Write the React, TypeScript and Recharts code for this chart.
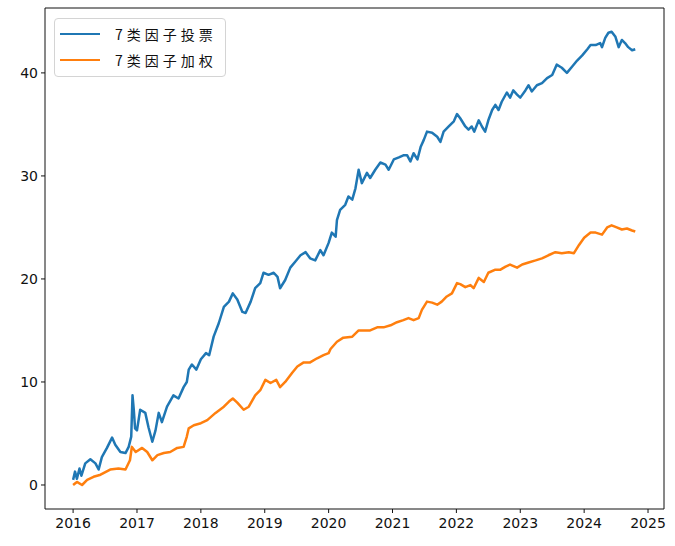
import React from "react";
import { LineChart, Line, XAxis, YAxis, Legend, ReferenceArea } from "recharts";

const yearTicks = [2016, 2017, 2018, 2019, 2020, 2021, 2022, 2023, 2024, 2025];
const valueTicks = [0, 10, 20, 30, 40];
const seriesNames = ["7类因子投票", "7类因子加权"];

const voteX = [2016.00, 2016.03, 2016.06, 2016.10, 2016.13, 2016.19, 2016.27, 2016.35, 2016.40, 2016.45,
  2016.53, 2016.61, 2016.66, 2016.74, 2016.82, 2016.87, 2016.91, 2016.93, 2016.95, 2016.97,
  2017.00, 2017.05, 2017.13, 2017.18, 2017.24, 2017.29, 2017.34, 2017.39, 2017.47, 2017.57,
  2017.65, 2017.73, 2017.78, 2017.81, 2017.86, 2017.93, 2018.00, 2018.08, 2018.13, 2018.20,
  2018.28, 2018.36, 2018.44, 2018.50, 2018.57, 2018.65, 2018.70, 2018.78, 2018.85, 2018.93,
  2018.98, 2019.06, 2019.14, 2019.20, 2019.24, 2019.32, 2019.40, 2019.48, 2019.56, 2019.64,
  2019.71, 2019.79, 2019.87, 2019.92, 2020.00, 2020.05, 2020.11, 2020.13, 2020.18, 2020.26,
  2020.31, 2020.37, 2020.42, 2020.47, 2020.52, 2020.60, 2020.65, 2020.73, 2020.81, 2020.89,
  2020.94, 2021.02, 2021.10, 2021.17, 2021.23, 2021.28, 2021.33, 2021.39, 2021.44, 2021.49,
  2021.54, 2021.62, 2021.70, 2021.75, 2021.80, 2021.88, 2021.96, 2022.01, 2022.06, 2022.14,
  2022.19, 2022.24, 2022.28, 2022.35, 2022.40, 2022.45, 2022.50, 2022.56, 2022.61, 2022.66,
  2022.71, 2022.79, 2022.84, 2022.89, 2022.95, 2023.00, 2023.08, 2023.13, 2023.18, 2023.26,
  2023.34, 2023.42, 2023.50, 2023.57, 2023.65, 2023.73, 2023.81, 2023.89, 2023.97, 2024.05,
  2024.10, 2024.18, 2024.25, 2024.28, 2024.33, 2024.38, 2024.43, 2024.49, 2024.54, 2024.59,
  2024.64, 2024.69, 2024.75, 2024.80];

const voteY = [0.5, 1.3, 0.6, 1.6, 0.9, 2.1, 2.5, 2.1, 1.5, 2.7,
  3.6, 4.6, 3.9, 3.2, 3.1, 3.7, 4.7, 8.7, 7.3, 5.5,
  5.3, 7.3, 7.0, 5.6, 4.2, 5.3, 7.0, 6.1, 7.6, 8.7,
  8.4, 9.5, 10.0, 11.2, 11.7, 11.2, 12.2, 12.8, 12.6, 14.4,
  15.7, 17.3, 17.8, 18.6, 18.0, 16.8, 16.7, 17.8, 19.1, 19.6,
  20.6, 20.4, 20.6, 20.2, 19.1, 19.9, 21.1, 21.7, 22.3, 22.6,
  22.0, 21.8, 22.8, 22.3, 23.5, 24.5, 24.1, 25.7, 26.7, 27.2,
  28.0, 27.7, 28.8, 30.6, 29.3, 30.3, 29.8, 30.6, 31.3, 31.1,
  30.6, 31.6, 31.8, 32.0, 32.0, 31.4, 32.2, 31.6, 32.8, 33.5,
  34.3, 34.2, 33.8, 33.3, 34.3, 34.8, 35.3, 36.0, 35.6, 34.8,
  34.5, 34.8, 34.3, 35.4, 34.8, 34.3, 35.4, 36.4, 36.9, 36.4,
  37.2, 38.1, 37.6, 38.3, 37.9, 37.6, 38.3, 38.8, 38.2, 38.8,
  39.0, 39.5, 39.8, 40.8, 40.5, 40.0, 40.6, 41.2, 41.7, 42.3,
  42.7, 42.7, 42.9, 42.5, 43.4, 43.9, 44.0, 43.5, 42.5, 43.2,
  42.9, 42.5, 42.2, 42.3];

const weightX = [2016.00, 2016.06, 2016.14, 2016.22, 2016.32, 2016.43, 2016.58, 2016.71, 2016.82, 2016.89,
  2016.92, 2016.98, 2017.08, 2017.16, 2017.24, 2017.32, 2017.42, 2017.52, 2017.63, 2017.73,
  2017.78, 2017.81, 2017.89, 2018.00, 2018.10, 2018.23, 2018.36, 2018.44, 2018.50, 2018.57,
  2018.67, 2018.75, 2018.85, 2018.93, 2019.01, 2019.09, 2019.18, 2019.24, 2019.32, 2019.43,
  2019.51, 2019.61, 2019.71, 2019.82, 2019.92, 2020.00, 2020.03, 2020.13, 2020.23, 2020.37,
  2020.47, 2020.55, 2020.65, 2020.76, 2020.86, 2020.97, 2021.07, 2021.17, 2021.25, 2021.33,
  2021.41, 2021.46, 2021.54, 2021.62, 2021.70, 2021.77, 2021.85, 2021.93, 2022.01, 2022.06,
  2022.14, 2022.22, 2022.27, 2022.35, 2022.43, 2022.50, 2022.61, 2022.69, 2022.77, 2022.84,
  2022.95, 2023.03, 2023.13, 2023.24, 2023.34, 2023.44, 2023.55, 2023.65, 2023.76, 2023.84,
  2023.92, 2024.00, 2024.10, 2024.18, 2024.28, 2024.36, 2024.43, 2024.51, 2024.59, 2024.67,
  2024.75, 2024.80];

const weightY = [0.0, 0.3, 0.0, 0.5, 0.8, 1.0, 1.5, 1.6, 1.5, 2.4,
  3.7, 3.2, 3.6, 3.2, 2.4, 2.9, 3.1, 3.2, 3.6, 3.7,
  4.7, 5.5, 5.8, 6.0, 6.3, 7.0, 7.6, 8.1, 8.4, 8.0,
  7.3, 7.6, 8.7, 9.2, 10.2, 9.9, 10.2, 9.5, 10.0, 10.9,
  11.5, 11.9, 11.9, 12.3, 12.6, 12.8, 13.2, 13.9, 14.3, 14.4,
  15.0, 15.0, 15.0, 15.3, 15.3, 15.5, 15.8, 16.0, 16.2, 16.0,
  16.2, 17.0, 17.8, 17.7, 17.5, 17.8, 18.3, 18.6, 19.6, 19.5,
  19.2, 19.4, 19.1, 20.1, 19.7, 20.6, 20.9, 20.9, 21.2, 21.4,
  21.1, 21.4, 21.6, 21.8, 22.0, 22.3, 22.6, 22.5, 22.6, 22.5,
  23.3, 24.0, 24.5, 24.5, 24.3, 25.0, 25.2, 25.0, 24.8, 24.9,
  24.7, 24.6];

const COLORS = ["#1f77b4", "#ff7f0e"];
const X_DOMAIN = [2015.56, 2025.25];
const Y_DOMAIN = [-2.33, 46.3];

const voteData = voteX.map((x, i) => ({ x, y: voteY[i] }));
const weightData = weightX.map((x, i) => ({ x, y: weightY[i] }));

const tickFont = { fontFamily: "'DejaVu Sans', sans-serif", fontSize: 14, fill: "#111" };

const LegendBox = () => (
  <div
    style={{
      border: "1px solid #d4d4d4",
      borderRadius: 4,
      background: "rgba(255,255,255,0.8)",
      padding: "2px 8px 3px 5px",
      fontFamily: "'Noto Sans CJK SC', sans-serif",
      fontSize: 14,
      color: "#111",
      lineHeight: "26px",
    }}
  >
    {seriesNames.map((name, i) => (
      <div key={name} style={{ display: "flex", alignItems: "center" }}>
        <span
          style={{
            display: "inline-block",
            width: 40,
            height: 2.5,
            background: COLORS[i],
            marginRight: 15,
          }}
        />
        <span style={{ letterSpacing: 4 }}>{name}</span>
      </div>
    ))}
  </div>
);

export default function App() {
  return (
    <div style={{ position: "absolute", left: 0, top: 0, background: "#fff" }}>
      <LineChart width={675} height={546} margin={{ top: 8, right: 11, bottom: 7, left: 5 }}>
        <XAxis
          dataKey="x"
          type="number"
          domain={X_DOMAIN}
          ticks={yearTicks}
          allowDataOverflow
          tick={tickFont}
          tickLine={{ stroke: "#111" }}
          axisLine={false}
          tickSize={4}
          tickMargin={5}
          height={30}
        />
        <YAxis
          type="number"
          domain={Y_DOMAIN}
          ticks={valueTicks}
          allowDataOverflow
          tick={tickFont}
          tickLine={{ stroke: "#111" }}
          axisLine={false}
          tickSize={4}
          tickMargin={3}
          width={40}
        />
        <ReferenceArea
          x1={X_DOMAIN[0]}
          x2={X_DOMAIN[1]}
          y1={Y_DOMAIN[0]}
          y2={Y_DOMAIN[1]}
          fill="none"
          fillOpacity={0}
          stroke="#111"
          strokeWidth={1}
          ifOverflow="visible"
        />
        <Legend
          layout="vertical"
          align="center"
          verticalAlign="middle"
          wrapperStyle={{ left: 54, top: 18, width: "auto" }}
          content={() => <LegendBox />}
        />
        <Line
          data={voteData}
          dataKey="y"
          name={seriesNames[0]}
          stroke={COLORS[0]}
          strokeWidth={2.5}
          dot={false}
          isAnimationActive={false}
          strokeLinejoin="round"
        />
        <Line
          data={weightData}
          dataKey="y"
          name={seriesNames[1]}
          stroke={COLORS[1]}
          strokeWidth={2.5}
          dot={false}
          isAnimationActive={false}
          strokeLinejoin="round"
        />
      </LineChart>
    </div>
  );
}
